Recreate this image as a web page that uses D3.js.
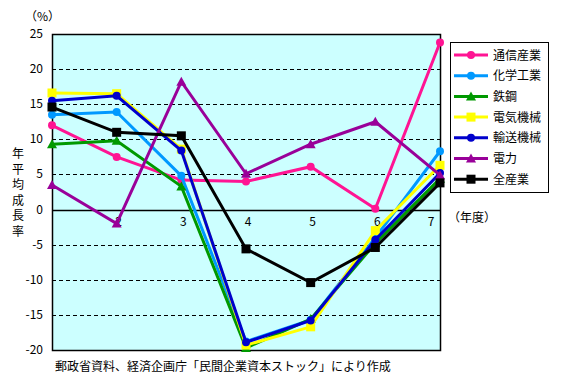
<!DOCTYPE html>
<html>
<head>
<meta charset="utf-8">
<script src="https://cdn.jsdelivr.net/npm/d3@7"></script>
<style>
body { margin: 0; background: #fff; }
text { font-family: "Noto Sans CJK JP", "DejaVu Sans", sans-serif; font-size: 12px; fill: #000; }
</style>
</head>
<body>
<script>
var width = 564, height = 387;

// 年度 (1..7)
var years = ["1", "2", "3", "4", "5", "6", "7"];
var yTicks = [25, 20, 15, 10, 5, 0, -5, -10, -15, -20];

var seriesNames = ["通信産業", "化学工業", "鉄鋼", "電気機械", "輸送機械", "電力", "全産業"];
var tsushin  = [12.0, 7.5, 4.2, 4.0, 6.1, 0.1, 23.8];
var kagaku   = [13.5, 13.9, 4.8, -18.8, -15.7, -4.0, 8.3];
var tekko    = [9.3, 9.8, 3.3, -19.7, -15.6, -4.8, 4.4];
var denki    = [16.6, 16.5, 8.6, -19.3, -16.7, -3.0, 6.3];
var yuso     = [15.5, 16.2, 8.4, -18.9, -15.8, -4.3, 5.2];
var denryoku = [3.5, -2.0, 18.2, 5.1, 9.3, 12.5, 4.9];
var zensangyo = [14.6, 11.0, 10.5, -5.6, -10.4, -5.4, 3.8];

var seriesValues = [tsushin, kagaku, tekko, denki, yuso, denryoku, zensangyo];
var colors = ["#FF1493", "#0099FF", "#009900", "#FFFF00", "#0000CC", "#990099", "#000000"];
var markers = ["circle", "circle", "triangle", "square", "circle", "triangle", "square"];

var svg = d3.select("body").append("svg")
    .attr("width", width)
    .attr("height", height);

var plotLeft = 52, plotRight = 440, plotTop = 34, plotBottom = 350;

var x = d3.scalePoint().domain(years).range([plotLeft, plotRight]);
var y = d3.scaleLinear().domain([-20, 25]).range([plotBottom, plotTop]);

// plot area
svg.append("rect")
    .attr("x", plotLeft).attr("y", plotTop)
    .attr("width", plotRight - plotLeft).attr("height", plotBottom - plotTop)
    .attr("fill", "#CCFFFF");

// dashed grid lines
svg.selectAll(".grid")
    .data(yTicks.filter(function(d) { return d != 0 && d != 25 && d != -20; }))
    .enter().append("line")
    .attr("x1", plotLeft).attr("x2", plotRight)
    .attr("y1", function(d) { return Math.round(y(d)) + 0.5; })
    .attr("y2", function(d) { return Math.round(y(d)) + 0.5; })
    .attr("stroke", "#000")
    .attr("stroke-dasharray", "4,3");

// zero line
svg.append("line")
    .attr("x1", plotLeft).attr("x2", plotRight)
    .attr("y1", Math.round(y(0)) + 0.5).attr("y2", Math.round(y(0)) + 0.5)
    .attr("stroke", "#000").attr("stroke-width", 1.5);

// border
svg.append("rect")
    .attr("x", plotLeft + 0.5).attr("y", plotTop + 0.5)
    .attr("width", plotRight - plotLeft).attr("height", plotBottom - plotTop)
    .attr("fill", "none").attr("stroke", "#000").attr("stroke-width", 1.5);

// y tick labels
svg.selectAll(".ylab")
    .data(yTicks)
    .enter().append("text")
    .attr("x", 43)
    .attr("y", function(d) { return y(d) + 4; })
    .attr("text-anchor", "end")
    .text(function(d) { return d; });

// x tick labels (1 hidden by axis)
svg.selectAll(".xlab")
    .data(years.slice(1))
    .enter().append("text")
    .attr("x", function(d) { return d == "7" ? x(d) - 9 : x(d) + 2; })
    .attr("y", y(0) + 16)
    .attr("text-anchor", "middle")
    .text(function(d) { return d; });

svg.append("text").attr("x", 25).attr("y", 21).text("（%）");
svg.append("text").attr("x", 448).attr("y", 222).text("（年度）");

// vertical y title
var ytitle = "年平均成長率".split("");
svg.selectAll(".ytitle")
    .data(ytitle)
    .enter().append("text")
    .attr("x", 18)
    .attr("y", function(d, i) { return 158 + i * 15.6; })
    .attr("text-anchor", "middle")
    .text(function(d) { return d; });

svg.append("text").attr("x", 55).attr("y", 371)
    .text("郵政省資料、経済企画庁「民間企業資本ストック」により作成");

var line = d3.line()
    .x(function(d, i) { return x(years[i]); })
    .y(function(d) { return y(d); });

function drawMarker(g, type, cx, cy, color) {
    if (type == "circle") {
        g.append("circle").attr("cx", cx).attr("cy", cy).attr("r", 4).attr("fill", color);
    } else if (type == "square") {
        g.append("rect").attr("x", cx - 4.5).attr("y", cy - 4.5)
            .attr("width", 9).attr("height", 9).attr("fill", color);
    } else {
        g.append("path")
            .attr("d", "M" + cx + "," + (cy - 5) + "L" + (cx + 5) + "," + (cy + 4) + "L" + (cx - 5) + "," + (cy + 4) + "Z")
            .attr("fill", color);
    }
}

seriesValues.forEach(function(vals, k) {
    var g = svg.append("g");
    g.append("path")
        .attr("d", line(vals))
        .attr("fill", "none")
        .attr("stroke", colors[k])
        .attr("stroke-width", 3);
    vals.forEach(function(v, i) {
        drawMarker(g, markers[k], x(years[i]), y(v), colors[k]);
    });
});

// legend
var lg = svg.append("g");
lg.append("rect")
    .attr("x", 450.5).attr("y", 42.5)
    .attr("width", 98).attr("height", 150)
    .attr("fill", "#fff").attr("stroke", "#000");
seriesNames.forEach(function(name, k) {
    var ly = 55 + k * 20.7;
    lg.append("line")
        .attr("x1", 454).attr("x2", 488)
        .attr("y1", ly).attr("y2", ly)
        .attr("stroke", colors[k]).attr("stroke-width", 3);
    drawMarker(lg, markers[k], 471, ly, colors[k]);
    lg.append("text").attr("x", 493).attr("y", ly + 4.5).text(name);
});
</script>
</body>
</html>
